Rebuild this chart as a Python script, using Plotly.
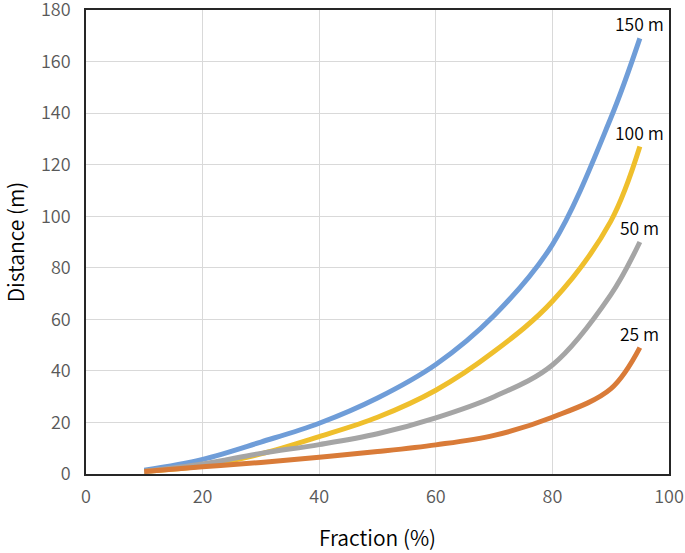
import plotly.graph_objects as go

fraction = [10, 20, 30, 40, 50, 60, 70, 80, 90, 95]
d150 = [1.5, 5.7, 12.4, 19.7, 29.5, 42.5, 61.5, 89.0, 138.0, 169.0]
d100 = [1.0, 3.2, 7.8, 14.5, 22.0, 32.5, 47.5, 67.0, 98.0, 127.0]
d50 = [1.0, 3.9, 8.0, 11.4, 15.6, 21.8, 30.0, 42.3, 69.5, 90.0]
d25 = [1.0, 2.8, 4.5, 6.5, 8.7, 11.3, 15.0, 22.0, 33.0, 49.0]
labels = ["150 m", "100 m", "50 m", "25 m"]
series = [d150, d100, d50, d25]
colors = ["#6F9DD8", "#EFBF2C", "#A5A5A5", "#D97B38"]

FONT = "Noto Sans CJK JP, Noto Sans, sans-serif"

fig = go.Figure()
for lab, ys, c in zip(labels, series, colors):
    fig.add_trace(go.Scatter(x=fraction, y=ys, mode="lines", name=lab,
                             line=dict(color=c, width=5, shape="spline", smoothing=1.0),
                             showlegend=False, hoverinfo="skip"))
    fig.add_annotation(x=fraction[-1], y=ys[-1], text=lab, showarrow=False,
                       xanchor="center", yanchor="bottom", yshift=0,
                       font=dict(family=FONT, size=17.5, color="#000000", weight=350))

axis_common = dict(showgrid=True, gridcolor="#D9D9D9", gridwidth=1,
                   showline=True, linecolor="#262626", linewidth=1.5, mirror=True,
                   zeroline=False, ticks="", automargin=False,
                   ticklabeloverflow="allow",
                   tickfont=dict(family=FONT, size=18, color="#595959", weight=350))

fig.update_xaxes(range=[0, 100], dtick=20, tick0=0, ticklabelstandoff=6,
                 title=dict(text="Fraction (%)",
                            font=dict(family=FONT, size=21, color="#000000", weight=350),
                            standoff=24),
                 **axis_common)
fig.update_yaxes(range=[0, 180], dtick=20, tick0=0, ticklabelstandoff=10,
                 title=dict(text="Distance (m)",
                            font=dict(family=FONT, size=21, color="#000000", weight=350),
                            standoff=14),
                 **axis_common)

fig.update_layout(width=685, height=553,
                  margin=dict(l=86, r=16, t=10, b=79),
                  plot_bgcolor="white", paper_bgcolor="white",
                  font=dict(family=FONT))

fig.write_html("out.html", config={"displayModeBar": False},
               post_script="document.body.style.margin='0';document.body.style.overflow='hidden';")
